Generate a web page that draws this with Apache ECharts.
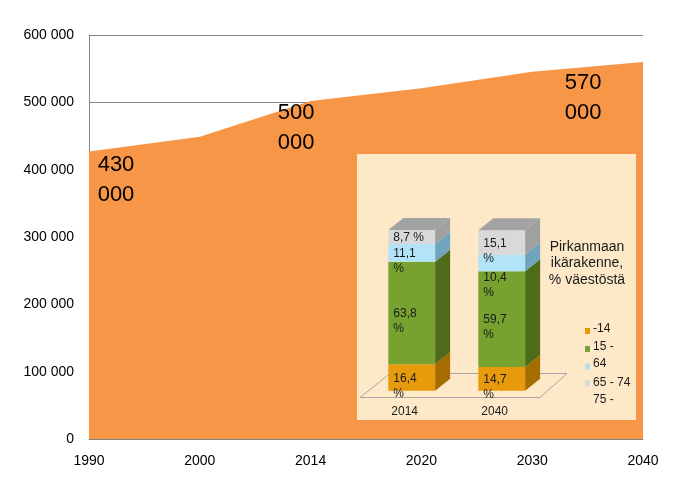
<!DOCTYPE html>
<html><head><meta charset="utf-8">
<script src="https://cdn.jsdelivr.net/npm/echarts@6/dist/echarts.min.js"></script>
<style>html,body{margin:0;padding:0;background:#fff}#c{width:682px;height:485px}</style>
</head><body><div id="c"></div>
<script>
// ---- data ----
const years = ['1990', '2000', '2014', '2020', '2030', '2040'];
const population = [427000, 449000, 502000, 521000, 545500, 560000];
const annotYears = ['1990', '2014', '2030'];
const annotTexts = ['430 000', '500 000', '570 000'];

const insetYears = ['2014', '2040'];
const ageGroups = ['-14', '15 - 64', '65 - 74', '75 -'];
const share2014 = [16.4, 63.8, 11.1, 8.7];
const share2040 = [14.7, 59.7, 10.4, 15.1];
const insetTitle = 'Pirkanmaan\nikärakenne,\n% väestöstä';
const legendLines = ['-14', '15 -', '64', '65 - 74', '75 -'];

// ---- style ----
const FONT = '"Liberation Sans", Arial, sans-serif';
const areaColor = '#F79646';
const frontColors = ['#E69A0C', '#78A22F', '#B3E3F7', '#D9D9D9'];
const sideColors = ['#A56C00', '#4D6B1B', '#6FA5BC', '#A0A0A0'];
const topColor = '#A3A3A3';
const legendColors = ['#E59A00', '#77A03A', '#B7DEE8', '#D9D9D9'];
const DX = 15, DY = -12;
const oneLine = [[false, false, false, true], [false, false, false, false]];
const labelShift = [[0, 0, 0, 0], [0, 0, 14, 0]];
const annotOffsets = [[27, 28], [-14.5, 27], [51, 26]];

const shares = [share2014, share2040];
const fmtThousands = v => String(v).replace(/\B(?=(\d{3})+(?!\d))/g, ' ');

const chart = echarts.init(document.getElementById('c'), null, {renderer: 'canvas'});

const insetSeries = ageGroups.map((name, g) => ({
  type: 'custom', name, xAxisIndex: 1, yAxisIndex: 1, z: 10,
  data: insetYears.map((y, c) => [c, shares[c][g]]),
  renderItem(params, api) {
    const c = api.value(0);
    const base = shares[c].slice(0, g).reduce((a, b) => a + b, 0);
    const top = base + shares[c][g];
    const pb = api.coord([c, base]);
    const pt = api.coord([c, top]);
    const bw = api.size([1, 0])[0] * 0.52;
    const x0 = pb[0] - bw / 2, x1 = pb[0] + bw / 2;
    const children = [
      {type: 'polygon', shape: {points: [[x1, pb[1]], [x1 + DX, pb[1] + DY], [x1 + DX, pt[1] + DY], [x1, pt[1]]]},
        style: {fill: sideColors[g]}},
      {type: 'rect', shape: {x: x0, y: pt[1], width: bw, height: pb[1] - pt[1]}, style: {fill: frontColors[g]}}
    ];
    if (g === ageGroups.length - 1) {
      children.push({type: 'polygon', shape: {points: [[x0, pt[1]], [x1, pt[1]], [x1 + DX, pt[1] + DY], [x0 + DX, pt[1] + DY]]},
        style: {fill: topColor}});
    }
    const txt = String(shares[c][g]).replace('.', ',') + (oneLine[c][g] ? ' %' : '\n%');
    const cy = (pb[1] + pt[1]) / 2 + 1 + labelShift[c][g];
    children.push({type: 'text', z2: 50, style: {text: txt, x: x0 + 5, y: cy - 7.5, fill: '#1a1a1a',
      fontSize: 12, fontFamily: FONT, lineHeight: 15, verticalAlign: 'top', align: 'left'}});
    return {type: 'group', children};
  }
}));

const graphics = [
  {type: 'rect', z: 5, shape: {x: 357, y: 154, width: 279, height: 266}, style: {fill: '#FDE8C8'}},
  {type: 'polygon', z: 6, shape: {points: [[360, 397.5], [540, 397.5], [567, 373.5], [390, 373.5]]},
    style: {fill: 'none', stroke: '#a6a6a6', lineWidth: 1}},
  {type: 'text', z: 12, style: {text: insetTitle, x: 587, y: 238.5, align: 'center', verticalAlign: 'top',
    fontSize: 14, fontFamily: FONT, lineHeight: 16.5, fill: '#1a1a1a'}}
];
const markerYs = [328, 346, 363.5, 380.5];
legendColors.forEach((col, i) => {
  graphics.push({type: 'rect', z: 12, shape: {x: 585, y: markerYs[i], width: 5, height: 6}, style: {fill: col}});
});
const legendTextYs = [329, 346.7, 363.3, 382.5, 400];
legendLines.forEach((t, i) => {
  graphics.push({type: 'text', z: 12, style: {text: t, x: 593, y: legendTextYs[i], align: 'left', verticalAlign: 'middle',
    fontSize: 12, fontFamily: FONT, fill: '#1a1a1a'}});
});

chart.setOption({
  animation: false,
  backgroundColor: '#ffffff',
  textStyle: {fontFamily: FONT},
  grid: [
    {left: 89, right: 39, top: 35, bottom: 46},
    {left: 366.7, width: 180, top: 230, height: 160.7}
  ],
  xAxis: [
    {type: 'category', data: years, boundaryGap: false, gridIndex: 0,
      axisLine: {show: true, lineStyle: {color: '#868686'}}, axisTick: {show: false},
      axisLabel: {color: '#000', fontSize: 14, margin: 15, fontFamily: FONT}},
    {type: 'category', data: insetYears, gridIndex: 1,
      axisLine: {show: false}, axisTick: {show: false}, splitLine: {show: false},
      axisLabel: {color: '#1a1a1a', fontSize: 12, margin: 15, padding: [0, 14, 0, 0], fontFamily: FONT}, z: 11}
  ],
  yAxis: [
    {type: 'value', min: 0, max: 600000, interval: 100000, gridIndex: 0,
      axisLine: {show: true, lineStyle: {color: '#868686'}}, axisTick: {show: false},
      splitLine: {show: true, lineStyle: {color: '#868686', width: 1}},
      axisLabel: {color: '#000', fontSize: 14, margin: 15, fontFamily: FONT, formatter: fmtThousands}},
    {type: 'value', min: 0, max: 100, gridIndex: 1, show: false}
  ],
  graphic: graphics,
  series: [
    {type: 'line', name: 'Väestö', data: population, xAxisIndex: 0, yAxisIndex: 0, z: 2,
      showSymbol: false, symbol: 'none', lineStyle: {width: 0, color: areaColor},
      areaStyle: {color: areaColor, opacity: 1}},
    {type: 'scatter', name: 'annot', xAxisIndex: 0, yAxisIndex: 0, z: 4, symbolSize: 1,
      itemStyle: {color: 'rgba(0,0,0,0)', opacity: 1},
      data: annotYears.map((y, i) => ({
        value: [y, population[years.indexOf(y)]],
        label: {show: true, position: 'inside', offset: annotOffsets[i],
          formatter: () => annotTexts[i].replace(' ', '\n'), opacity: 1,
          color: '#000000', textBorderWidth: 0, fontSize: 22, lineHeight: 30, fontFamily: FONT,
          align: 'center', verticalAlign: 'middle'}
      }))},
    ...insetSeries
  ]
});
</script>
</body></html>
